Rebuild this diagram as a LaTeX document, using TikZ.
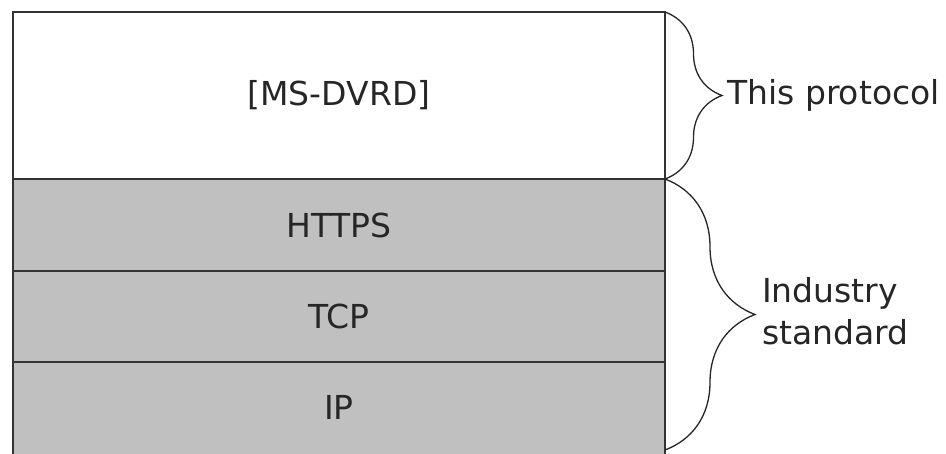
\documentclass[tikz,border=0pt]{standalone}
\usepackage{fontspec}
\setmainfont{DejaVu Sans}
\usetikzlibrary{positioning,calc,decorations.pathreplacing}
\definecolor{layergray}{HTML}{C0C0C0}

\begin{document}
\begin{tikzpicture}[x=1pt, y=-1pt,
    layer/.style={rectangle, draw=black!80, line width=2pt, minimum width=652pt,
        inner sep=0pt, outer sep=0pt, text=black!85, font=\fontsize{33}{42}\selectfont},
    std/.style={layer, fill=layergray},
    bracket/.style={decorate, draw=black!85, line width=1.3pt},
    note/.style={inner sep=0pt, align=left, text=black!85, font=\fontsize{33}{42}\selectfont}]

    \clip (0,0) rectangle (946,453);

    % protocol stack
    \node [layer, minimum height=167pt] (dvrd) at (339,95.5) {[MS-DVRD]};
    \node [std, minimum height=92pt, below=0pt of dvrd] (https) {HTTPS};
    \node [std, minimum height=91pt, below=0pt of https] (tcp) {TCP};
    \node [std, minimum height=97pt, below=0pt of tcp, text depth=6pt] (ip) {IP};

    % braces
    \coordinate (stdend) at ([yshift=9pt]ip.south east);
    \draw [bracket, decoration={brace, amplitude=57pt}] (dvrd.north east) -- (dvrd.south east);
    \draw [bracket, decoration={brace, amplitude=90pt}] (https.north east) -- (stdend);

    \coordinate (prototip) at ([xshift=57pt]dvrd.east);
    \coordinate (stdtip) at ($(https.north east)!0.5!(stdend) + (90,0)$);

    \node [note, right=5pt of prototip] (thisproto) {This protocol};
    \node [note, right=7pt of stdtip, yshift=3pt] (industry) {Industry\\standard};

\end{tikzpicture}
\end{document}
